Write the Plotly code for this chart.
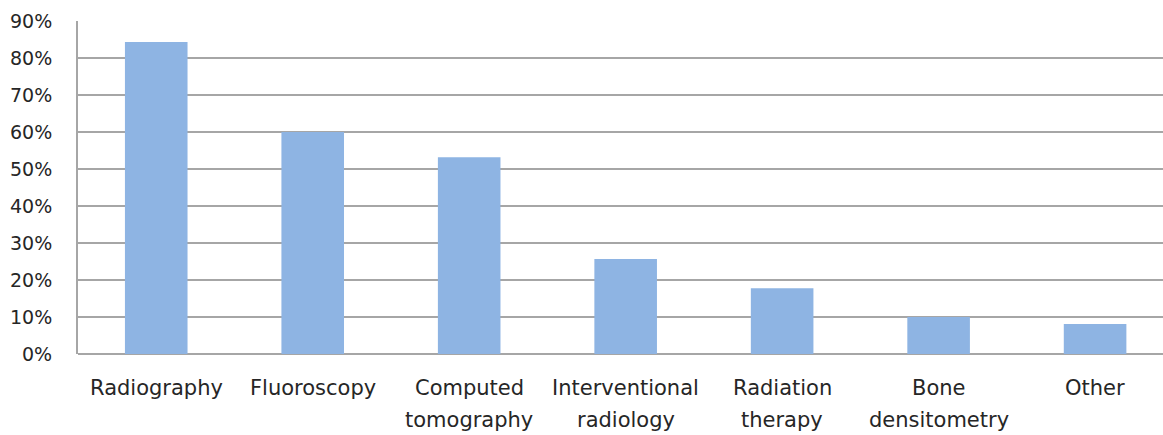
import plotly.graph_objects as go

# Survey share by imaging modality
categories = ["Radiography", "Fluoroscopy", "Computed tomography", "Interventional radiology",
              "Radiation therapy", "Bone densitometry", "Other"]
label_lines = [["Radiography"], ["Fluoroscopy"], ["Computed", "tomography"],
               ["Interventional", "radiology"], ["Radiation", "therapy"],
               ["Bone", "densitometry"], ["Other"]]
shares = [0.843, 0.60, 0.532, 0.257, 0.178, 0.10, 0.081]
y_ticks = [0, 0.1, 0.2, 0.3, 0.4, 0.5, 0.6, 0.7, 0.8, 0.9]
y_tick_text = ["0%", "10%", "20%", "30%", "40%", "50%", "60%", "70%", "80%", "90%"]

FONT = "DejaVu Sans"
TEXT_COLOR = "#262626"
GRID = "#a6a6a6"

fig = go.Figure(go.Bar(
    x=list(range(len(categories))),
    y=shares,
    marker=dict(color="#8eb4e3", line=dict(width=0)),
    width=0.4,
    hovertext=categories,
))

# Category labels below the axis, one annotation per text line
for i, lines in enumerate(label_lines):
    for j, line in enumerate(lines):
        fig.add_annotation(
            x=i, y=0, xref="x", yref="paper",
            text=line, showarrow=False,
            yanchor="middle", xanchor="center",
            yshift=-34 - 32 * j,
            font=dict(family=FONT, size=21, color=TEXT_COLOR),
        )

fig.update_layout(
    width=1163, height=435,
    margin=dict(l=78, r=0, t=21, b=81),
    plot_bgcolor="white", paper_bgcolor="white",
    showlegend=False,
    bargap=0.6,
    xaxis=dict(
        range=[-0.5, 6.434],
        showticklabels=False, ticks="",
        showgrid=False, zeroline=False,
        showline=False,
    ),
    yaxis=dict(
        range=[0, 0.9],
        tickvals=y_ticks, ticktext=y_tick_text,
        tickfont=dict(family=FONT, size=19, color=TEXT_COLOR),
        showgrid=True, gridcolor=GRID, gridwidth=1.5,
        zeroline=True, zerolinecolor=GRID, zerolinewidth=2,
        showline=True, linecolor=GRID, linewidth=2,
        ticks="", ticklabelstandoff=20,
    ),
)

fig.write_html("out.html")
